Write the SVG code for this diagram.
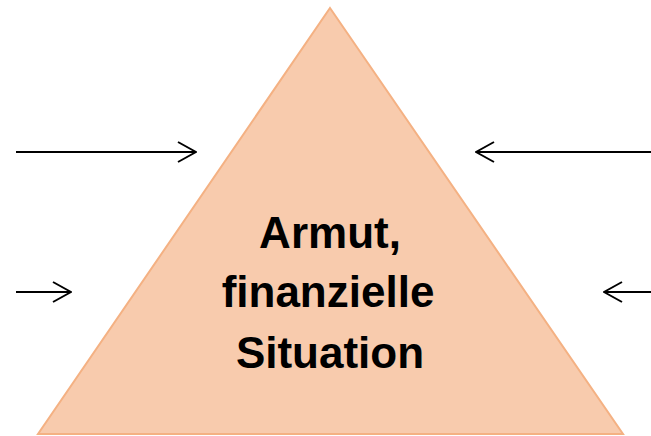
<svg xmlns="http://www.w3.org/2000/svg" width="651" height="436" viewBox="0 0 651 436">
<defs>
<style>
.tri{fill:#F8CBAD;stroke:#F4B183;stroke-width:2}
.lbl{font-family:"Liberation Sans",Arial,sans-serif;font-weight:bold;font-size:44px;fill:#000;text-anchor:middle}
.arr{stroke:#000;stroke-width:2;fill:none;marker-end:url(#head)}
</style>
<marker id="head" viewBox="0 0 20 22" refX="19" refY="11" markerWidth="20" markerHeight="22" markerUnits="userSpaceOnUse" orient="auto">
<path d="M1,1 L19,11 L1,21" fill="none" stroke="#000" stroke-width="2"/>
</marker>
</defs>
<g id="triangle">
<polygon class="tri" points="330,8 623,434 38,434"/>
<text class="lbl" x="330" y="248">Armut,</text>
<text class="lbl" x="328" y="307">finanzielle</text>
<text class="lbl" x="330" y="368">Situation</text>
</g>
<g id="connectors">
<line class="arr" x1="16" y1="152" x2="196" y2="152"/>
<line class="arr" x1="651" y1="152" x2="476" y2="152"/>
<line class="arr" x1="16" y1="292" x2="71" y2="292"/>
<line class="arr" x1="651" y1="292" x2="604" y2="292"/>
</g>
</svg>
